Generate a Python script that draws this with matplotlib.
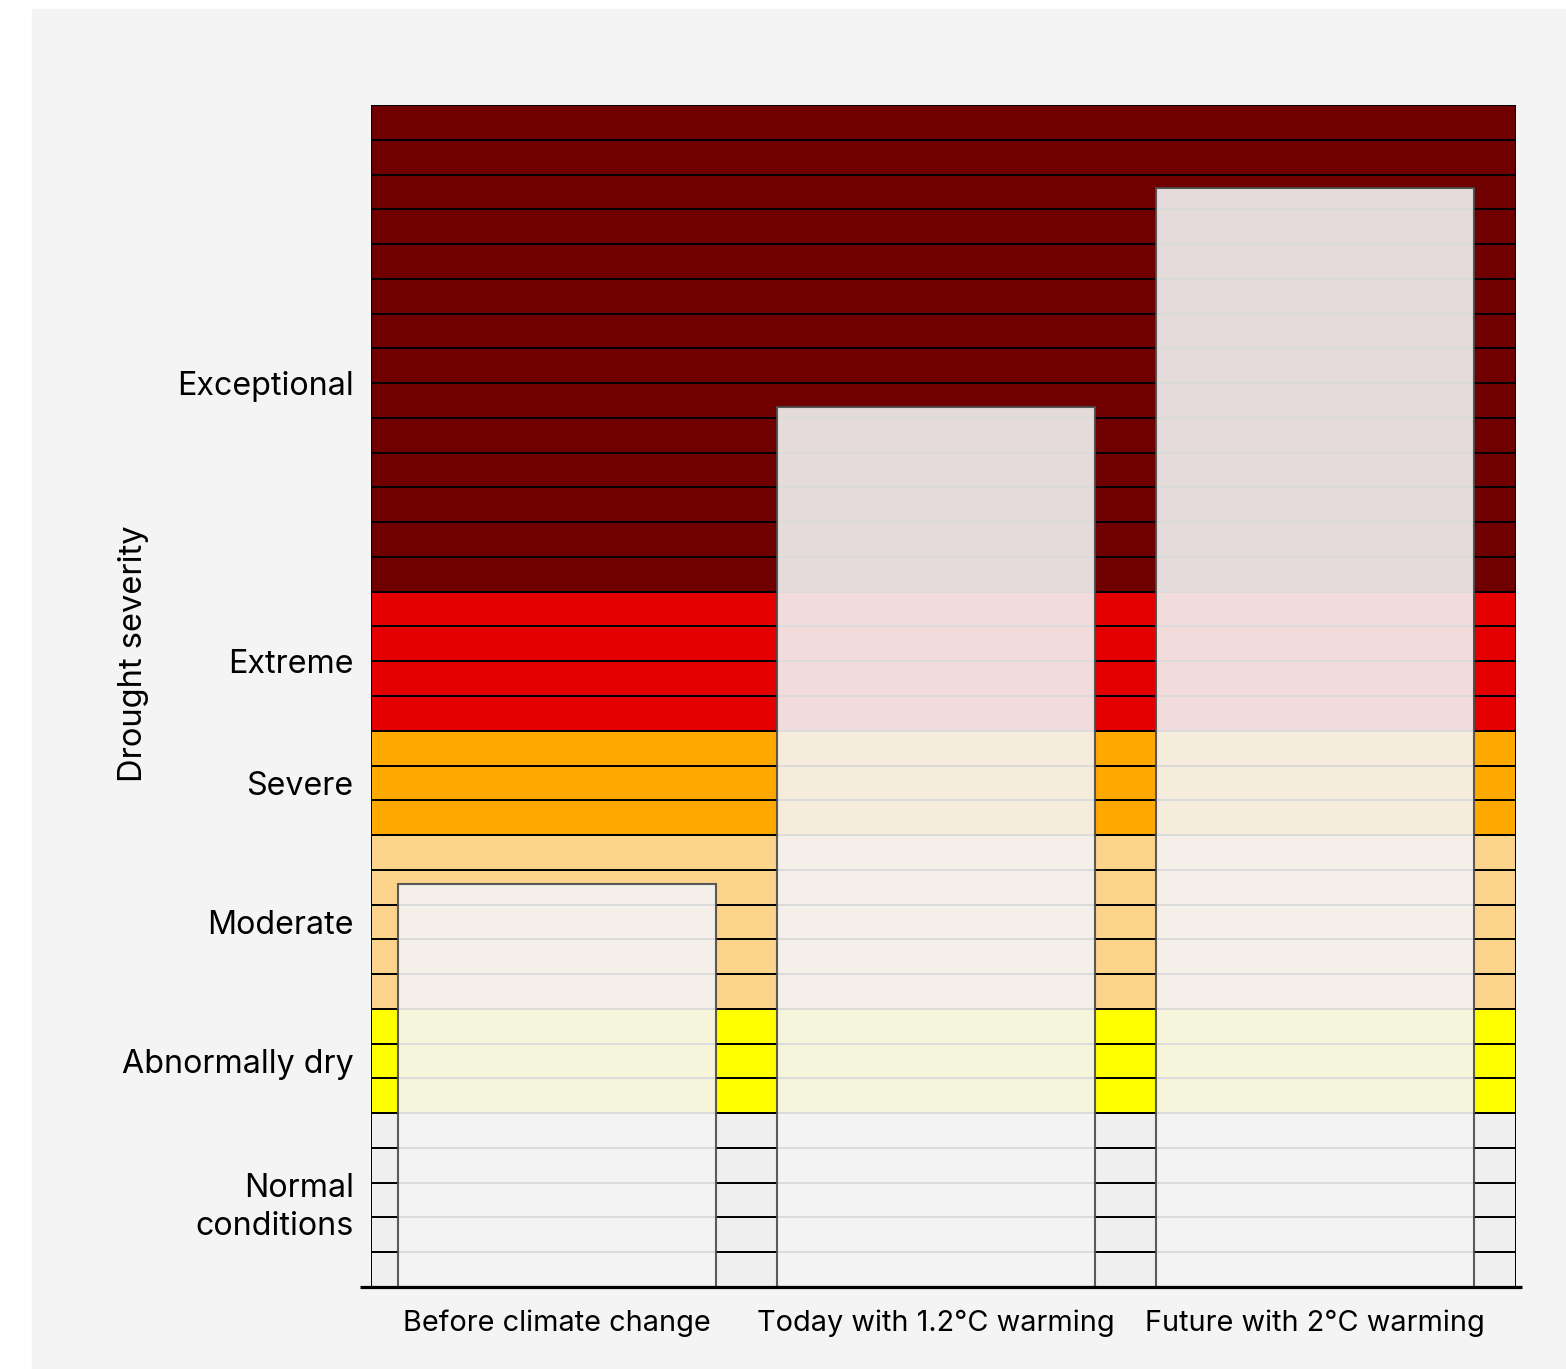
import matplotlib.pyplot as plt
import numpy as np
from matplotlib.patches import Rectangle

plt.rcParams['font.family'] = ['Inter', 'DejaVu Sans']

# Severity bands (bottom to top), number of rows in each band
severity_labels = ["Normal\nconditions", "Abnormally dry", "Moderate", "Severe", "Extreme", "Exceptional"]
severity_rows = [5, 3, 5, 3, 4, 14]
severity_colors = ["#efefef", "#ffff00", "#fbd38a", "#ffa800", "#e40000", "#700000"]
label_positions = [2.5, 6.5, 10.5, 14.5, 18, 26]

scenarios = ["Before climate change", "Today with 1.2°C warming", "Future with 2°C warming"]
severity_reached = [11.6, 25.3, 31.6]

BG = "#f4f4f4"

fig = plt.figure(figsize=(15.66, 13.69), dpi=100)
fig.patch.set_facecolor("white")
fig.patches.append(Rectangle((32 / 1566, 0), 1 - 32 / 1566, 1 - 9 / 1369,
                             transform=fig.transFigure, color=BG, zorder=-10))

ax = fig.add_axes([371 / 1566, 82 / 1369, 1145 / 1566, 1182 / 1369])
ax.set_facecolor(BG)

xmin, xmax = -0.49, 2.53
total_rows = sum(severity_rows)

# background grid of coloured rows
row_colors = []
for n, c in zip(severity_rows, severity_colors):
    row_colors += [c] * n
rows = np.arange(total_rows)
ax.barh(rows + 0.5, xmax - xmin, left=xmin, height=1, color=row_colors,
        edgecolor="black", linewidth=1.4, zorder=1)

# scenario bars on top
x = np.arange(len(scenarios))
ax.bar(x, severity_reached, width=0.84, color=BG, alpha=0.9,
       edgecolor="#4a4a4a", linewidth=1.5, zorder=2)

ax.set_xlim(xmin, xmax)
ax.set_ylim(0, total_rows)

for s in ax.spines.values():
    s.set_visible(False)
ax.plot([-0.52, 2.545], [0, 0], color="black", linewidth=2.3,
        clip_on=False, zorder=5, solid_capstyle="butt")

ax.set_xticks(x)
ax.set_xticklabels(scenarios, fontsize=20.8)
ax.set_yticks(label_positions)
ax.set_yticklabels(severity_labels, fontsize=23.2, linespacing=1.3)
ax.tick_params(axis="both", length=0)
ax.tick_params(axis="x", pad=16)
ax.tick_params(axis="y", pad=12.5)

ax.text(-0.207, 0.536, "Drought severity", transform=ax.transAxes,
        rotation=90, ha="center", va="center", fontsize=23.5)

fig.savefig("out.png", dpi=100, facecolor=fig.get_facecolor())
